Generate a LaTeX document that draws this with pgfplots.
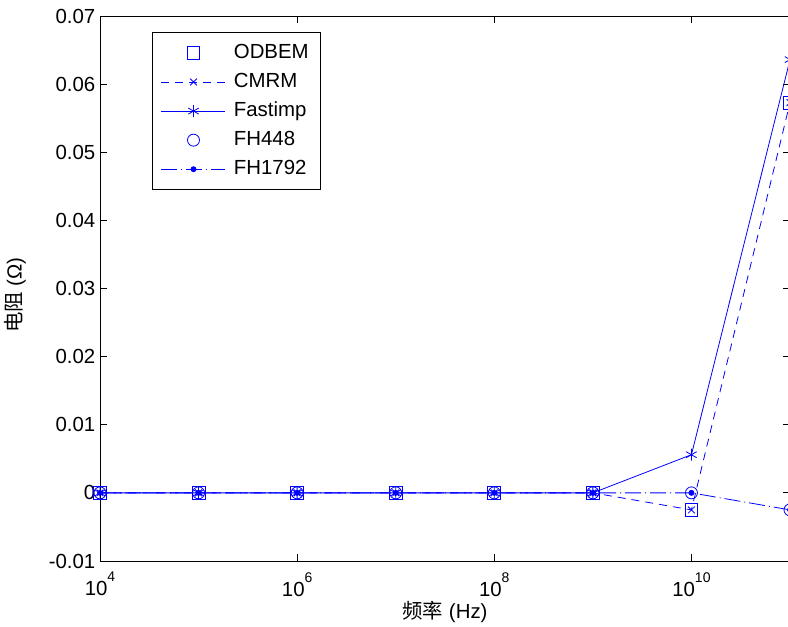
\documentclass[border=0pt]{standalone}
\usepackage{pgfplots}
\pgfplotsset{compat=1.18}
\usepackage{fontspec}
\setmainfont{Liberation Sans}
\newfontfamily\cjk{Noto Sans CJK SC}
\usetikzlibrary{calc}
\definecolor{mblue}{RGB}{0,0,255}
\newcommand{\pe}[1]{10\raisebox{10.5pt}{\fontsize{10.5}{12}\selectfont #1}}
\begin{document}
\begin{tikzpicture}
\begin{axis}[
  scale only axis, width=517.5pt, height=408.75pt,
  xmode=log, xmin=1e4, xmax=1e11, ymin=-0.01, ymax=0.07,
  xtick={1e4,1e6,1e8,1e10},
  xticklabels={\pe{4},\pe{6},\pe{8},\pe{10}},
  xminorticks=false,
  ytick={-0.01,0,0.01,0.02,0.03,0.04,0.05,0.06,0.07},
  yticklabels={-0.01,0,0.01,0.02,0.03,0.04,0.05,0.06,0.07},
  scaled y ticks=false,
  tick align=inside, major tick length=5pt,
  axis line style={line width=0.6pt},
  every tick/.style={black, line width=0.6pt},
  tick label style={font=\fontsize{15.3}{18}\selectfont},
  xticklabel style={yshift=-5pt},
  xlabel={{\cjk 频率} (Hz)},
  ylabel={{\cjk 电阻} (Ω)},
  label style={font=\fontsize{15.3}{18}\selectfont},
  xlabel style={at={(axis description cs:0.5,-0.0936)}, anchor=center},
  ylabel style={at={(axis description cs:-0.123,0.488)}, anchor=center},
  legend image code/.code={\draw[mark repeat=2,mark phase=2,#1] plot coordinates {(0pt,0pt)(24pt,0pt)(48pt,0pt)};},
  legend style={at={(0.0754,0.9706)}, anchor=north west, font=\fontsize{15.3}{18}\selectfont,
    draw=black, line width=0.6pt, row sep=4pt, column sep=4pt, inner sep=6.5pt,
    nodes={text height=10.8pt, text depth=3pt, inner sep=2pt}},
  legend cell align=left,
]
\addplot[mblue, only marks, mark=square, mark size=4.8pt, line width=0.6pt] coordinates {
(1e4,0)(1e5,0)(1e6,0)(1e7,0)(1e8,0)(1e9,0)(1e10,-0.0025)(1e11,0.0573)};
\addlegendentry{ODBEM}
\addplot[mblue, line width=0.6pt, dash pattern=on 6pt off 4.5pt, mark=x, mark size=3.6pt, mark options={solid}] coordinates {
(1e4,0)(1e5,0)(1e6,0)(1e7,0)(1e8,0)(1e9,0)(1e10,-0.0025)(1e11,0.0573)};
\addlegendentry{CMRM}
\addplot[mblue, line width=0.6pt, mark=asterisk, mark size=4.5pt, mark options={solid}] coordinates {
(1e4,0)(1e5,0)(1e6,0)(1e7,0)(1e8,0)(1e9,0)(1e10,0.0056)(1e11,0.0636)};
\addlegendentry{Fastimp}
\addplot[mblue, only marks, mark=o, mark size=4.5pt, line width=0.6pt] coordinates {
(1e4,0)(1e5,0)(1e6,0)(1e7,0)(1e8,0)(1e9,0)(1e10,0)(1e11,-0.0025)};
\addlegendentry{FH448}
\addplot[mblue, line width=0.6pt, dash pattern=on 12pt off 3pt on 0.75pt off 3pt, mark=*, mark size=1.9pt, mark options={solid}] coordinates {
(1e4,0)(1e5,0)(1e6,0)(1e7,0)(1e8,0)(1e9,0)(1e10,0)(1e11,-0.0025)};
\addlegendentry{FH1792}
\end{axis}
\pgfresetboundingbox
\path[use as bounding box] ($(current axis.south west)+(-75pt,-49.5pt)$) rectangle ($(current axis.north east)+(-1.5pt,12pt)$);
\end{tikzpicture}
\end{document}
